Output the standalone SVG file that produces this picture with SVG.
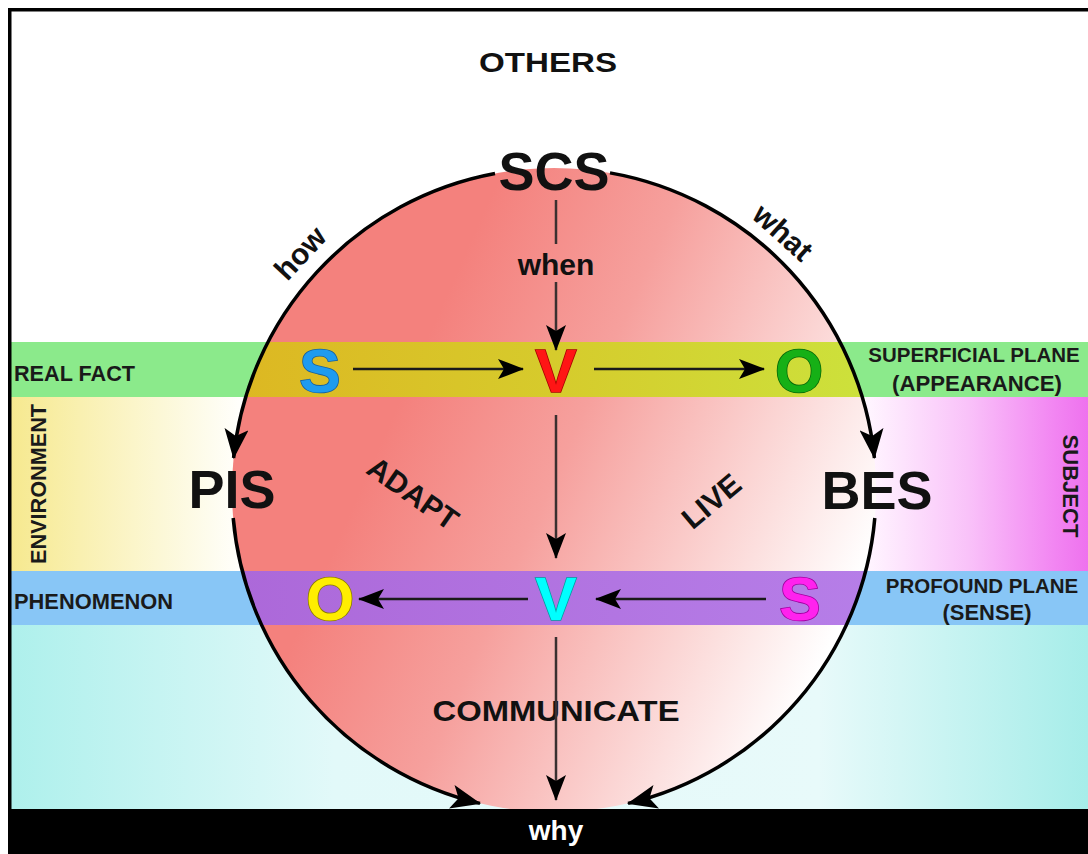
<svg xmlns="http://www.w3.org/2000/svg" width="1088" height="854" viewBox="0 0 1088 854">
  <style>
    text { font-family: "Liberation Sans", Arial, sans-serif; font-weight: bold; fill: #111; }
    .lbl { font-size: 22px; fill: #1a1a1a; }
    .lbs { font-size: 20.5px; fill: #1a1a1a; }
    .big { font-size: 54px; }
    .mid { font-size: 30px; }
    .q { font-size: 28px; }
    .qa { font-size: 30px; }
    .let { font-size: 62px; stroke-width: 1.6; paint-order: stroke; }
    .arc { fill: none; stroke: #000; stroke-width: 3.5; marker-end: url(#bigArrow); }
    .ln { fill: none; stroke: #1a1a1a; stroke-width: 2.5; marker-end: url(#arrow); }
    .vln { fill: none; stroke: #3a3030; stroke-width: 2.5; marker-end: url(#arrow); }
  </style>
  <defs>
    <marker id="arrow" markerUnits="userSpaceOnUse" viewBox="0 0 26 20" markerWidth="26" markerHeight="20" refX="25" refY="10" orient="auto">
      <path d="M0,0 L26,10 L0,20 L6,10 z" fill="#000"/>
    </marker>
    <marker id="bigArrow" markerUnits="userSpaceOnUse" viewBox="0 0 30 24" markerWidth="30" markerHeight="24" refX="29" refY="12" orient="auto">
      <path d="M0,0 L30,12 L0,24 L7,12 z" fill="#000"/>
    </marker>
    <linearGradient id="circleGrad" gradientUnits="userSpaceOnUse" x1="400" y1="400" x2="850" y2="600">
      <stop offset="0" stop-color="#F4817D"/>
      <stop offset="0.35" stop-color="#F6A09D"/>
      <stop offset="1" stop-color="#FFFFFF"/>
    </linearGradient>
    <linearGradient id="envGrad" gradientUnits="userSpaceOnUse" x1="11" y1="0" x2="240" y2="0">
      <stop offset="0" stop-color="#F6E98F"/>
      <stop offset="0.3" stop-color="#F9F0B0"/>
      <stop offset="1" stop-color="#FFFFFC"/>
    </linearGradient>
    <linearGradient id="subjGrad" gradientUnits="userSpaceOnUse" x1="870" y1="0" x2="1088" y2="0">
      <stop offset="0" stop-color="#FFF4FF"/>
      <stop offset="0.45" stop-color="#F9C2F9"/>
      <stop offset="0.85" stop-color="#F285F2"/>
      <stop offset="1" stop-color="#EE72EE"/>
    </linearGradient>
    <linearGradient id="cyanGrad" gradientUnits="userSpaceOnUse" x1="11" y1="0" x2="1088" y2="0">
      <stop offset="0" stop-color="#AEF0EC"/>
      <stop offset="0.3" stop-color="#E2F9F9"/>
      <stop offset="0.75" stop-color="#E8FAFA"/>
      <stop offset="1" stop-color="#A6EDE9"/>
    </linearGradient>
    <linearGradient id="topBandGrad" gradientUnits="userSpaceOnUse" x1="232" y1="0" x2="876" y2="0">
      <stop offset="0" stop-color="#DDB722"/>
      <stop offset="0.5" stop-color="#D6CB2C"/>
      <stop offset="1" stop-color="#CCE23C"/>
    </linearGradient>
    <linearGradient id="botBandGrad" gradientUnits="userSpaceOnUse" x1="232" y1="0" x2="876" y2="0">
      <stop offset="0" stop-color="#AC68D9"/>
      <stop offset="1" stop-color="#B67EE8"/>
    </linearGradient>
    <clipPath id="circClip">
      <circle cx="554" cy="490" r="322"/>
    </clipPath>
  </defs>

  <rect x="0" y="0" width="1088" height="854" fill="#fff"/>

  <g id="bands">
    <rect x="11" y="342" width="1077" height="55" fill="#8BEA8B"/>
    <rect x="11" y="397" width="232" height="174" fill="url(#envGrad)"/>
    <rect x="866" y="397" width="222" height="174" fill="url(#subjGrad)"/>
    <rect x="11" y="571" width="1077" height="54" fill="#88C6F6"/>
    <rect x="11" y="625" width="1077" height="185" fill="url(#cyanGrad)"/>
  </g>

  <g id="circle">
    <circle cx="554" cy="490" r="322" fill="url(#circleGrad)"/>
    <g clip-path="url(#circClip)">
      <rect x="200" y="342" width="700" height="55" fill="url(#topBandGrad)"/>
      <rect x="200" y="571" width="700" height="54" fill="url(#botBandGrad)"/>
    </g>
  </g>

  <g id="labels">
    <text x="548" y="72" text-anchor="middle" class="q" textLength="138" lengthAdjust="spacingAndGlyphs">OTHERS</text>
    <text x="14" y="381" class="lbl" textLength="121" lengthAdjust="spacingAndGlyphs">REAL FACT</text>
    <text x="14" y="609" class="lbl" textLength="159" lengthAdjust="spacingAndGlyphs">PHENOMENON</text>
    <text x="46" y="484" class="lbl" text-anchor="middle" transform="rotate(-90 46 484)" textLength="160" lengthAdjust="spacingAndGlyphs">ENVIRONMENT</text>
    <text x="1063" y="486" class="lbl" text-anchor="middle" transform="rotate(90 1063 486)" textLength="103" lengthAdjust="spacingAndGlyphs">SUBJECT</text>
    <text x="974" y="362" class="lbs" text-anchor="middle">SUPERFICIAL PLANE</text>
    <text x="977" y="391" class="lbl" text-anchor="middle" textLength="170" lengthAdjust="spacingAndGlyphs">(APPEARANCE)</text>
    <text x="982" y="593" class="lbs" text-anchor="middle">PROFOUND PLANE</text>
    <text x="987" y="620" class="lbl" text-anchor="middle" textLength="89" lengthAdjust="spacingAndGlyphs">(SENSE)</text>
  </g>

  <g id="node-scs"><text x="554" y="190" text-anchor="middle" class="big">SCS</text></g>
  <g id="node-pis"><text x="232" y="508" text-anchor="middle" class="big">PIS</text></g>
  <g id="node-bes"><text x="877" y="509" text-anchor="middle" class="big">BES</text></g>

  <g id="node-s-top"><text x="320" y="392" text-anchor="middle" class="let" stroke="#17609C" style="fill:#1E9BEF">S</text></g>
  <g id="node-v-top"><text x="556" y="392" text-anchor="middle" class="let" stroke="#A80000" style="fill:#FF1515">V</text></g>
  <g id="node-o-top"><text x="799" y="392" text-anchor="middle" class="let" stroke="#086808" style="fill:#16B016">O</text></g>
  <g id="node-o-bot"><text x="330" y="620" text-anchor="middle" class="let" stroke="#8A7A00" style="fill:#FFEE00">O</text></g>
  <g id="node-v-bot"><text x="556" y="620" text-anchor="middle" class="let" stroke="#00A0A0" style="fill:#00FFFF">V</text></g>
  <g id="node-s-bot"><text x="800" y="620" text-anchor="middle" class="let" stroke="#A000A0" style="fill:#FF22EE">S</text></g>

  <g id="node-adapt"><text x="407" y="502" text-anchor="middle" class="mid" transform="rotate(35 407 502)">ADAPT</text></g>
  <g id="node-live"><text x="718" y="509" text-anchor="middle" class="mid" transform="rotate(-40 718 509)">LIVE</text></g>
  <g id="node-communicate"><text x="556" y="721" text-anchor="middle" class="mid" textLength="247" lengthAdjust="spacingAndGlyphs">COMMUNICATE</text></g>

  <g id="connectors">
    <path class="arc" d="M495,173.5 A322,322 0 0,0 233.6,458"/>
    <path class="arc" d="M233.2,518 A322,322 0 0,0 480,803.4"/>
    <path class="arc" d="M610,172.9 A322,322 0 0,1 874.4,458"/>
    <path class="arc" d="M874.8,518 A322,322 0 0,1 628,803.4"/>
    <path class="vln" d="M556,200 V244 M556,282 V350"/>
    <path class="vln" d="M556,415 V558"/>
    <path class="vln" d="M556,637 V800"/>
    <path class="ln" d="M353,369 H523"/>
    <path class="ln" d="M594,369 H764"/>
    <path class="ln" d="M766,599 H596"/>
    <path class="ln" d="M528,599 H359"/>
  </g>

  <g id="connector-labels">
    <text x="556" y="275" text-anchor="middle" class="qa">when</text>
    <text x="307.6" y="260" text-anchor="middle" class="qa" transform="rotate(-47 307.6 260)">how</text>
    <text x="776" y="240" text-anchor="middle" class="qa" transform="rotate(42 776 240)">what</text>
  </g>

  <g id="frame">
    <rect x="8" y="8" width="1080" height="3.5" fill="#000"/>
    <rect x="8" y="8" width="3.5" height="846" fill="#000"/>
    <rect x="8" y="809" width="1080" height="45" fill="#000"/>
    <text x="556" y="840" text-anchor="middle" class="q" style="fill:#fff">why</text>
  </g>
</svg>
